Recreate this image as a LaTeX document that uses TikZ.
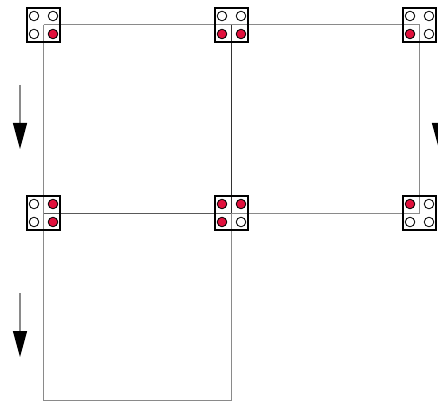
\documentclass[tikz,border=0pt]{standalone}
\usetikzlibrary{arrows.meta}
\definecolor{pinred}{HTML}{E0103C}
\definecolor{linegray}{HTML}{8A8A8A}
\tikzset{
  cell/.style={draw=black, fill=white, line width=1.2pt, minimum width=33pt, minimum height=34pt, inner sep=0pt, outer sep=0pt},
  pinon/.style={circle, draw=black, fill=pinred, line width=0.8pt, minimum size=9.6pt, inner sep=0pt},
  pinoff/.style={circle, draw=black, fill=white, line width=0.8pt, minimum size=9.6pt, inner sep=0pt},
  wire/.style={draw=linegray, line width=1pt},
  darkwire/.style={draw=black!80, line width=1pt},
  midwire/.style={draw=black!65, line width=1pt},
  flowarrow/.style={draw=linegray, line width=1.4pt, -{Triangle[width=14pt,length=26pt,color=black,fill=black]}}
}
\newcommand{\pinset}[5]{%
  \node[#2] (#1tl) at ([xshift=-9.5pt,yshift=9pt]#1.center) {};
  \node[#3] (#1tr) at ([xshift=9.5pt,yshift=9pt]#1.center) {};
  \node[#4] (#1bl) at ([xshift=-9.5pt,yshift=-9pt]#1.center) {};
  \node[#5] (#1br) at ([xshift=9.5pt,yshift=-9pt]#1.center) {};
}
\begin{document}
\begin{tikzpicture}[x=1pt,y=-1pt]
\useasboundingbox (0,0) rectangle (438,403);
\clip (0,0) rectangle (438,403);
% boxes
\node[cell] (b1) at (43.5,25) {};
\node[cell] (b2) at (231.5,25) {};
\node[cell] (b3) at (419.5,25) {};
\node[cell] (b4) at (43.5,213) {};
\node[cell] (b5) at (231.5,213) {};
\node[cell] (b6) at (419.5,213) {};
\coordinate (c1) at (43.5,400);
\coordinate (c2) at (231.5,400);
% connectors
\draw[wire] (b1.center) -- (b2.center);
\draw[wire] (b2.center) -- (b3.center);
\draw[wire] (b1.center) -- (b4.center);
\draw[darkwire] (b2.center) -- (b5.center);
\draw[wire] (b3.center) -- (b6.center);
\draw[midwire] (b4.center) -- (b5.center);
\draw[wire] (b5.center) -- (b6.center);
\draw[wire] (b4.center) -- (c1) -- (c2) -- (b5.center);
% redraw box borders over connectors
\foreach \b in {b1,b2,b3,b4,b5,b6} {\draw[line width=1.2pt] (\b.north west) rectangle (\b.south east);}
% pins
\pinset{b1}{pinoff}{pinoff}{pinoff}{pinon}
\pinset{b2}{pinoff}{pinoff}{pinon}{pinon}
\pinset{b3}{pinoff}{pinoff}{pinon}{pinoff}
\pinset{b4}{pinoff}{pinon}{pinoff}{pinon}
\pinset{b5}{pinon}{pinon}{pinon}{pinoff}
\pinset{b6}{pinon}{pinoff}{pinoff}{pinoff}
% arrows
\coordinate (a1s) at (20,85);
\coordinate (a1e) at (20,149);
\coordinate (a2s) at (20,293);
\coordinate (a2e) at (20,357);
\coordinate (a3s) at (439,85);
\coordinate (a3e) at (439,149);
\draw[flowarrow] (a1s) -- (a1e);
\draw[flowarrow] (a2s) -- (a2e);
\draw[flowarrow] (a3s) -- (a3e);
\end{tikzpicture}
\end{document}
